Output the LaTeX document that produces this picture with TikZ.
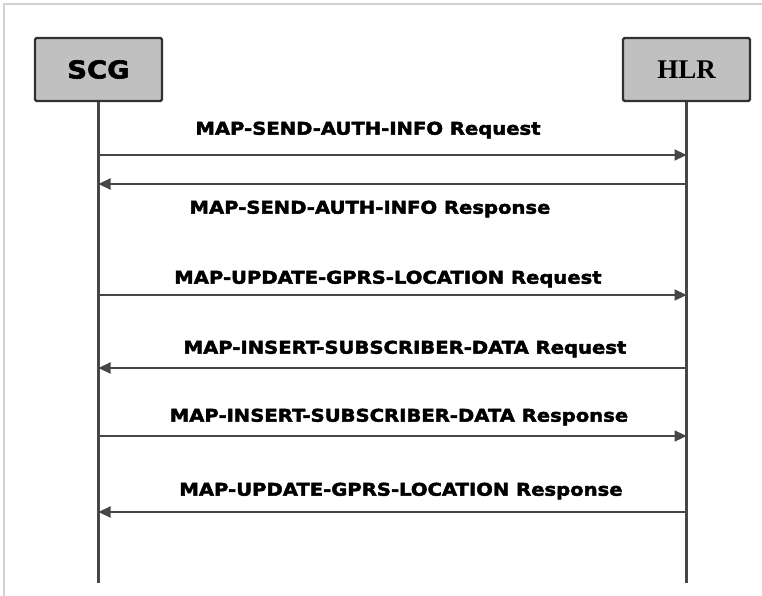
\documentclass[tikz,border=0pt]{standalone}
\usepackage{fontspec}
\setmainfont{Liberation Serif}
\newfontfamily\msgfont[FakeStretch=1.12,FakeBold=2.5]{DejaVu Sans}
\usetikzlibrary{arrows.meta}
\definecolor{boxgray}{RGB}{192,192,192}
\definecolor{linegray}{RGB}{70,70,70}

\begin{document}
\begin{tikzpicture}[x=1pt,y=-1pt,->,>={Triangle[length=12pt,width=11pt]},
        line width=2.2pt,draw=linegray,
        entity/.style={draw=linegray!70!black,fill=boxgray,rounded corners=1.5pt,
          minimum width=127pt,minimum height=63pt,line width=2.2pt},
        msg/.style={font=\msgfont\bfseries\fontsize{17.5}{20}\selectfont,inner sep=0pt}]

      \useasboundingbox (0,0) rectangle (762,596);
      \draw[-,gray!35,line width=1.5pt] (4,596) -- (4,4) -- (762,4);

      \node[entity] (SCG) at (98.5,69.5) {\msgfont\bfseries\fontsize{24.5}{28}\selectfont SCG};
      \node[entity] (HLR) at (686.5,69.5) {\bfseries\fontsize{27}{29}\selectfont HLR};

      \coordinate (SCG-end) at (98.5,583);
      \coordinate (HLR-end) at (686.5,583);
      \draw[-] (SCG) -- (SCG-end);
      \draw[-] (HLR) -- (HLR-end);

      % message points on the lifelines
      \foreach \n/\y in {1/155,2/184,3/295,4/368,5/436,6/512}{
        \coordinate (s\n) at (98.5,\y);
        \coordinate (h\n) at (686.5,\y);
      }

      \path
      (s1) edge (h1)
      (h2) edge (s2)
      (s3) edge (h3)
      (h4) edge (s4)
      (s5) edge (h5)
      (h6) edge (s6);

      \node[msg] (m1) at (368,130) {MAP-SEND-AUTH-INFO Request};
      \node[msg] (m2) at (370,209) {MAP-SEND-AUTH-INFO Response};
      \node[msg] (m3) at (388,279) {MAP-UPDATE-GPRS-LOCATION Request};
      \node[msg] (m4) at (405,349) {MAP-INSERT-SUBSCRIBER-DATA Request};
      \node[msg] (m5) at (399,417) {MAP-INSERT-SUBSCRIBER-DATA Response};
      \node[msg] (m6) at (401,491) {MAP-UPDATE-GPRS-LOCATION Response};

    \end{tikzpicture}
\end{document}
